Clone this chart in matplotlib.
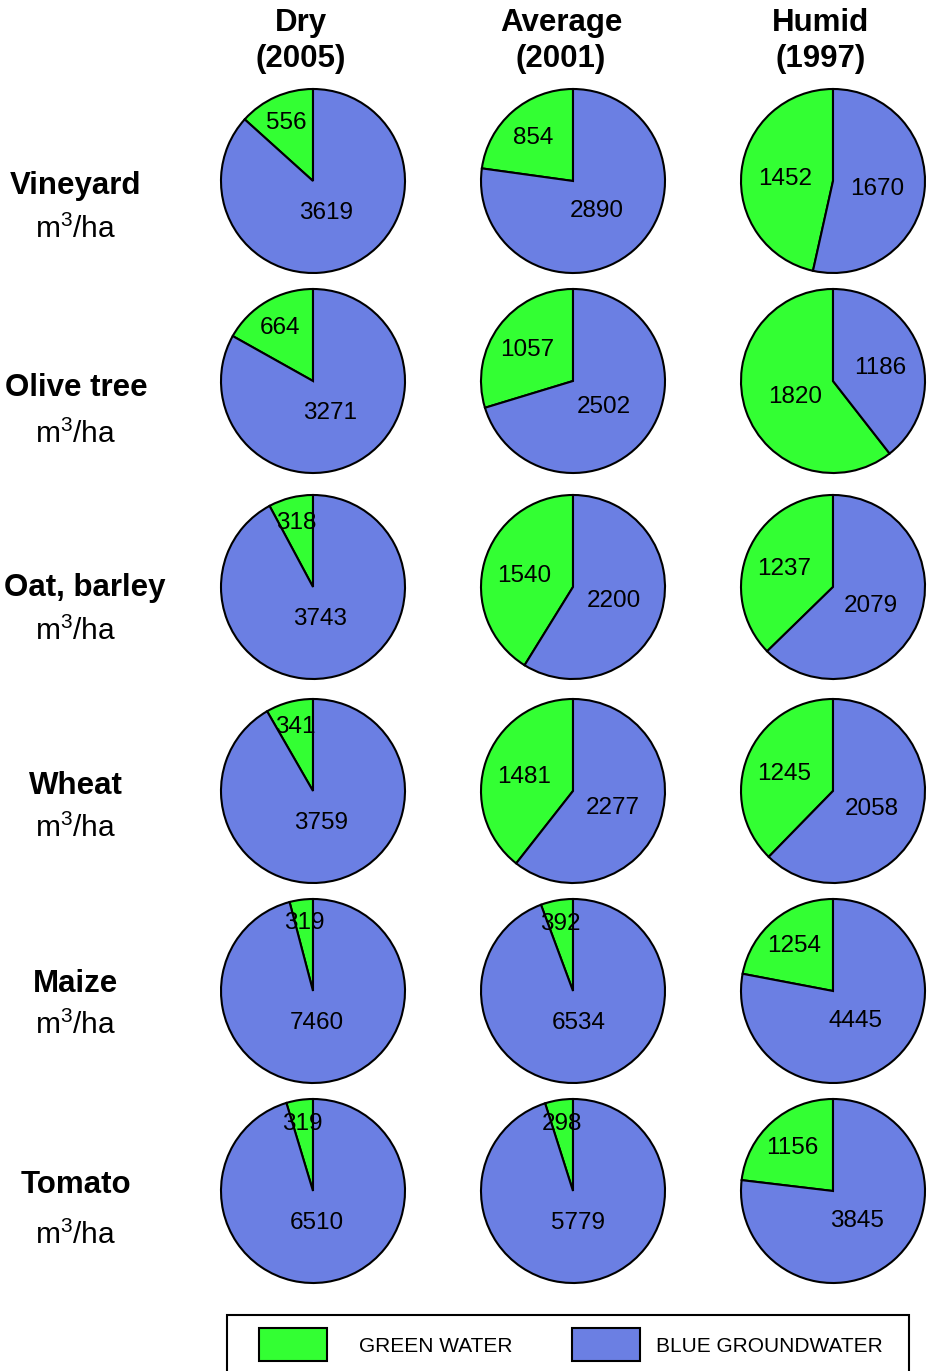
import matplotlib.pyplot as plt
import numpy as np
from matplotlib.patches import Rectangle
import matplotlib

matplotlib.rcParams['font.family'] = ['Liberation Sans', 'DejaVu Sans']
matplotlib.rcParams['mathtext.fontset'] = 'custom'
matplotlib.rcParams['mathtext.rm'] = 'Liberation Sans'

# data
crops = ["Vineyard", "Olive tree", "Oat, barley", "Wheat", "Maize", "Tomato"]
years = ["Dry\n(2005)", "Average\n(2001)", "Humid\n(1997)"]
green_water = [
    [556, 854, 1452],
    [664, 1057, 1820],
    [318, 1540, 1237],
    [341, 1481, 1245],
    [319, 392, 1254],
    [319, 298, 1156],
]
blue_water = [
    [3619, 2890, 1670],
    [3271, 2502, 1186],
    [3743, 2200, 2079],
    [3759, 2277, 2058],
    [7460, 6534, 4445],
    [6510, 5779, 3845],
]
legend_labels = ["GREEN WATER", "BLUE GROUNDWATER"]

GREEN = "#33ff33"
BLUE = "#6b7fe3"

W, H = 929, 1371
fig = plt.figure(figsize=(W / 100, H / 100), dpi=100)

# background axes in pixel coords for texts and legend
bg = fig.add_axes([0, 0, 1, 1])
bg.set_xlim(0, W)
bg.set_ylim(H, 0)
bg.axis("off")

# layout (pixels)
col_x = [313, 573, 833]
row_y = [181, 381, 587, 791, 991, 1191]
name_y = [183, 385, 585, 783, 981, 1182]
unit_y = [227, 432, 629, 826, 1023, 1233]
rad = 92

for i, crop in enumerate(crops):
    for j in range(3):
        g = green_water[i][j]
        b = blue_water[i][j]
        fg = g / (g + b)
        pad = rad + 3
        ax = fig.add_axes([(col_x[j] - pad) / W, 1 - (row_y[i] + pad) / H,
                           2 * pad / W, 2 * pad / H])
        ax.pie([g, b], colors=[GREEN, BLUE], startangle=90, counterclock=True,
               wedgeprops=dict(edgecolor="black", linewidth=1.5))
        lim = pad / rad
        ax.set_xlim(-lim, lim)
        ax.set_ylim(-lim, lim)
        ax.set_aspect("equal")
        # labels
        ag = np.deg2rad(90 + 180 * fg)
        rg = 0.8 - 0.6 * fg
        ab = np.deg2rad(90 + 360 * fg + 180 * (1 - fg))
        rb = 0.3 + 0.4 * fg
        ax.text(rg * np.cos(ag), rg * np.sin(ag) - 0.03, str(g), ha="center", va="center", fontsize=17.5)
        ax.text(rb * np.cos(ab), rb * np.sin(ab) - 0.03, str(b), ha="center", va="center", fontsize=17.5)

    t = bg.text(76, name_y[i] + 11, crop, ha="center", va="baseline", fontsize=22.5, fontweight="bold")
    # keep long labels inside the figure
    fig.canvas.draw()
    ext = t.get_window_extent()
    if ext.x0 < 4:
        t.set_x(76 + (4 - ext.x0))
    bg.text(76, unit_y[i] + 11, r"m$^3$/ha", ha="center", va="baseline", fontsize=21.5)

for j, yr in enumerate(years):
    top, bottom = yr.split("\n")
    bg.text(col_x[j] - 12, 31, top, ha="center", va="baseline", fontsize=22.5, fontweight="bold")
    bg.text(col_x[j] - 12, 67, bottom, ha="center", va="baseline", fontsize=22.5, fontweight="bold")

# legend box
bg.add_patch(Rectangle((227, 1315), 682, 80, facecolor="white", edgecolor="black", linewidth=1.5))
bg.add_patch(Rectangle((259, 1328), 68, 33, facecolor=GREEN, edgecolor="black", linewidth=1.5))
bg.add_patch(Rectangle((572, 1328), 68, 33, facecolor=BLUE, edgecolor="black", linewidth=1.5))
bg.text(359, 1346, legend_labels[0], ha="left", va="center", fontsize=15)
bg.text(656, 1346, legend_labels[1], ha="left", va="center", fontsize=15)

fig.savefig("out.png", dpi=100)
